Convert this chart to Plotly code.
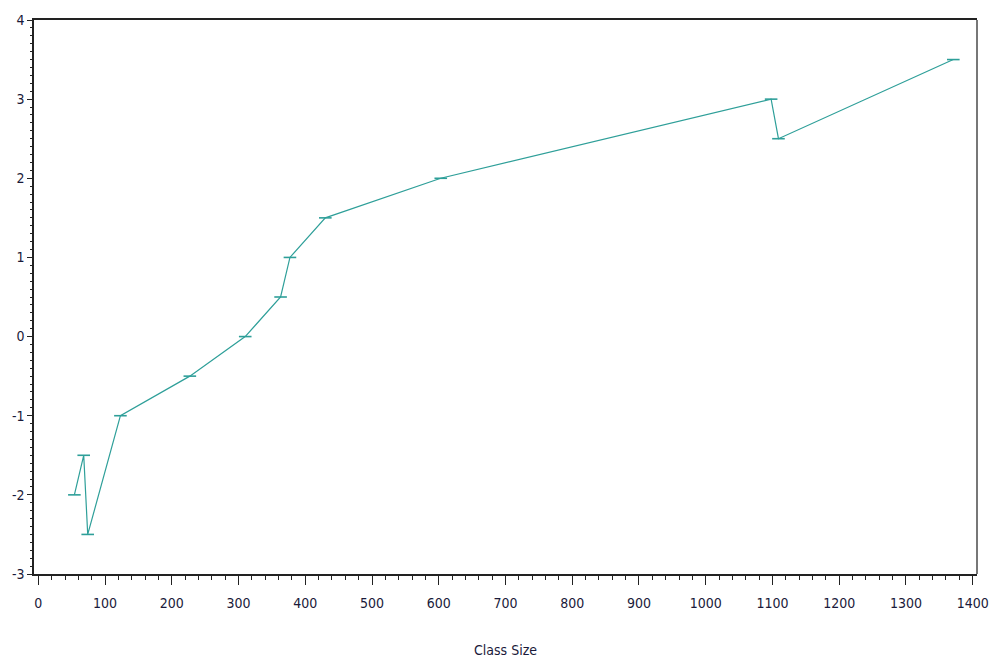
import plotly.graph_objects as go

# Class size vs. score
class_size = [54, 68, 74, 123, 227, 310, 363, 377, 430, 603, 1098, 1109, 1371]
score = [-2.0, -1.5, -2.5, -1.0, -0.5, 0.0, 0.5, 1.0, 1.5, 2.0, 3.0, 2.5, 3.5]

x_ticks = list(range(0, 1401, 100))
y_ticks = list(range(-3, 5))

line_color = "#2e9f99"
font = dict(family="DejaVu Sans Condensed, Liberation Sans Narrow, Arial Narrow, Liberation Sans, Arial",
            size=14, color="#1a1a3a")

fig = go.Figure()
fig.add_trace(go.Scatter(
    x=class_size, y=score, mode="lines+markers",
    line=dict(color=line_color, width=1.2),
    marker=dict(symbol="line-ew", size=9, line=dict(color=line_color, width=1.6)),
    showlegend=False,
))

fig.update_layout(
    width=1001, height=668,
    margin=dict(l=32, r=15, t=15, b=90),
    paper_bgcolor="white", plot_bgcolor="white",
    font=font,
    xaxis=dict(
        range=[-6.5, 1406.5], tickvals=x_ticks, ticktext=[str(v) for v in x_ticks],
        showgrid=False, zeroline=False, showline=True, linecolor="#222", linewidth=1.5,
        mirror=True,
        ticks="outside", ticklen=9, tickwidth=1, tickcolor="#222",
        ticklabelstandoff=6,
        minor=dict(dtick=20, tick0=0, ticks="outside", ticklen=4, tickcolor="#222"),
        title=dict(text="Class Size", standoff=36, font=font),
    ),
    yaxis=dict(
        range=[-3, 4], tickvals=y_ticks, ticktext=[str(v) for v in y_ticks],
        showgrid=False, zeroline=False, showline=True, linecolor="#222", linewidth=1.5,
        ticks="outside", ticklen=5, tickwidth=1, tickcolor="#222",
        minor=dict(dtick=0.1, tick0=0, ticks="outside", ticklen=2, tickcolor="#222"),
    ),
    shapes=[dict(type="line", xref="paper", yref="paper", x0=1, x1=1, y0=0, y1=1,
                 line=dict(color="#777", width=2))],
)

fig.write_html("out.html")
